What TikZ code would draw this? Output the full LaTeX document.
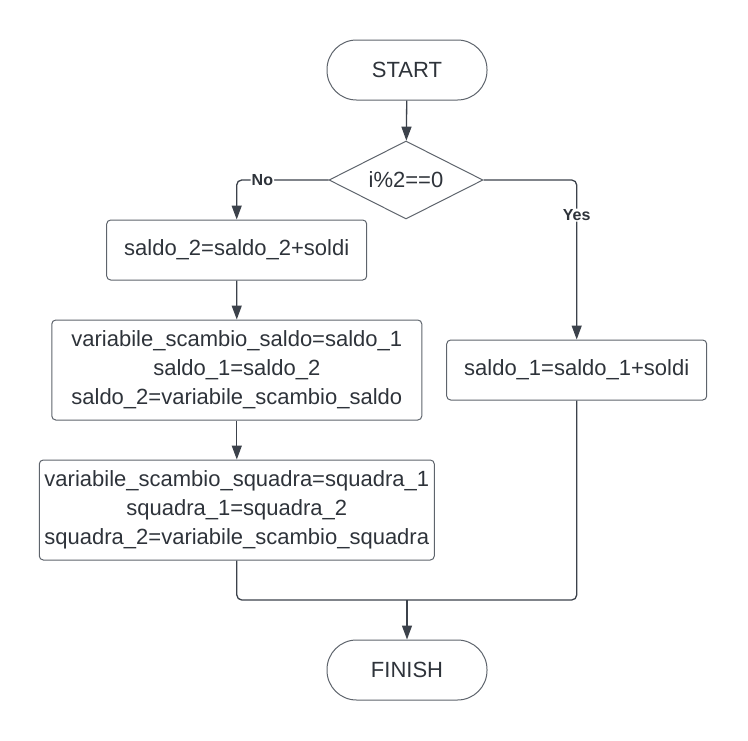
\documentclass[tikz,border=0pt]{standalone}
\usepackage{fontspec}
\setmainfont{Liberation Sans}
\usetikzlibrary{shapes.geometric,arrows.meta}

\definecolor{linegray}{HTML}{3C424B}
\definecolor{boxgray}{HTML}{5E646C}
\definecolor{textgray}{HTML}{2E333A}

\tikzset{
  terminal/.style={draw=boxgray,line width=1pt,rounded corners=29.5pt,
    minimum width=160pt,minimum height=60pt,inner sep=0pt},
  decision/.style={draw=boxgray,line width=1pt,diamond,aspect=2,
    minimum width=154pt,minimum height=78pt,inner sep=0pt},
  process/.style={draw=boxgray,line width=1pt,rounded corners=4pt,
    align=center,inner sep=0pt},
  link/.style={draw=linegray,line width=1.3pt,rounded corners=5pt},
  arr/.style={link,-{Triangle[length=14pt,width=10pt]}},
  answer/.style={fill=white,font=\bfseries\fontsize{16}{18}\selectfont,inner sep=1pt}
}

\begin{document}
\begin{tikzpicture}[x=1pt,y=1pt,text=textgray,
    font=\fontsize{22}{29}\selectfont]
  \useasboundingbox (0,0) rectangle (748,-740);
  \node[terminal] (start) at (407,-70) {START};
  \node[decision] (test) at (406,-180) {i\%2==0};
  \node[process,minimum width=260pt,minimum height=60pt] (add2) at (236.7,-250) {saldo\_2=saldo\_2+soldi};
  \node[process,minimum width=370pt,minimum height=100pt] (swapsaldo) at (236.8,-370)
    {variabile\_scambio\_saldo=saldo\_1\\saldo\_1=saldo\_2\\saldo\_2=variabile\_scambio\_saldo};
  \node[process,minimum width=395pt,minimum height=100pt] (swapsquadra) at (236.8,-510)
    {variabile\_scambio\_squadra=squadra\_1\\squadra\_1=squadra\_2\\squadra\_2=variabile\_scambio\_squadra};
  \node[process,minimum width=260pt,minimum height=60pt] (add1) at (576.7,-370) {saldo\_1=saldo\_1+soldi};
  \node[terminal] (finish) at (407,-670) {FINISH};
  \coordinate (merge) at (407,-600);

  \draw[arr] (start) -- (test);
  \draw[arr] (test.west) -| node[answer,pos=0.36] {No} (add2.north);
  \draw[arr] (test.east) -| node[answer,pos=0.61] {Yes} (add1.north);
  \draw[arr] (add2) -- (swapsaldo);
  \draw[arr] (swapsaldo) -- (swapsquadra);
  \draw[link] (swapsquadra.south) |- (merge) -| (add1.south);
  \draw[arr] (merge) -- (finish);
\end{tikzpicture}
\end{document}
